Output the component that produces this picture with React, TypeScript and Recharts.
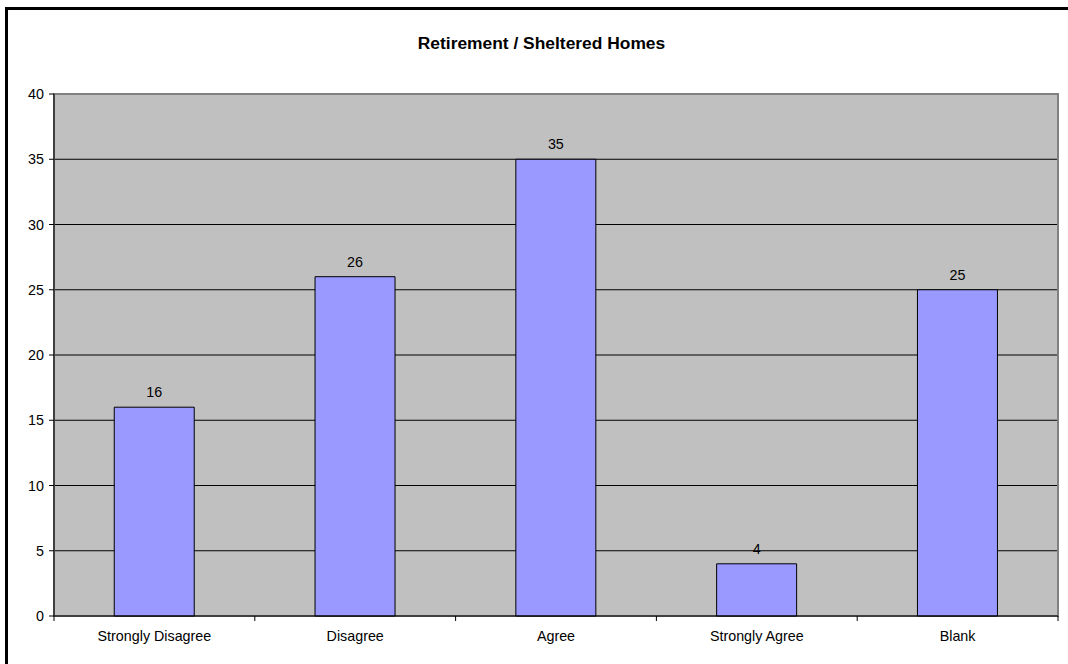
import React from "react";
import { BarChart, Bar, XAxis, YAxis, CartesianGrid, LabelList, ReferenceArea } from "recharts";

const categories = ["Strongly Disagree", "Disagree", "Agree", "Strongly Agree", "Blank"];
const counts = [16, 26, 35, 4, 25];
const yTicks = [0, 5, 10, 15, 20, 25, 30, 35, 40];
const title = "Retirement / Sheltered Homes";

const data = categories.map((c, i) => ({ name: c, value: counts[i] }));

const W = 1068;
const H = 664;
const M = { top: 94, right: 10, left: 14, bottom: 18 };
const YW = 40;
const PLOT_W = W - M.left - YW - M.right;
const FONT = "'Liberation Sans', Arial, sans-serif";
const FS = 14.3;

function XTick(props: any) {
  const { x, y, payload, index } = props;
  const bw = PLOT_W / categories.length;
  const last = index === categories.length - 1;
  return (
    <g>
      <line x1={x - bw / 2} x2={x - bw / 2} y1={y} y2={y + 5} stroke="#000" />
      {last && <line x1={x + bw / 2} x2={x + bw / 2} y1={y} y2={y + 5} stroke="#000" />}
      <text x={x} y={y} dy={25} textAnchor="middle" fontSize={FS} fontFamily={FONT} fill="#000">
        {payload.value}
      </text>
    </g>
  );
}

export default function App() {
  return (
    <div style={{ position: "absolute", left: 0, top: 0, width: W, height: H, background: "#fff", overflow: "hidden" }}>
      <BarChart width={W} height={H} data={data} margin={M} barCategoryGap="30%">
        <CartesianGrid vertical={false} stroke="#000" strokeOpacity={1} fill="#C0C0C0" fillOpacity={1} />
        <ReferenceArea y1={0} y2={40} fill="none" stroke="#808080" strokeWidth={2} ifOverflow="visible" />
        <XAxis
          dataKey="name"
          tick={<XTick />}
          tickLine={false}
          tickSize={0}
          tickMargin={0}
          height={30}
          axisLine={{ stroke: "#000" }}
          interval={0}
        />
        <YAxis
          width={YW}
          domain={[0, 40]}
          ticks={yTicks}
          interval={0}
          tickSize={5}
          tickMargin={5}
          axisLine={{ stroke: "#000" }}
          tickLine={{ stroke: "#000" }}
          tick={{ fontSize: FS, fill: "#000", fontFamily: FONT }}
        />
        <Bar dataKey="value" fill="#9999FF" stroke="#000" strokeWidth={1} isAnimationActive={false}>
          <LabelList dataKey="value" position="top" offset={10} fontSize={FS} fill="#000" fontFamily={FONT} />
        </Bar>
      </BarChart>
      <svg width={W} height={H} style={{ position: "absolute", left: 0, top: 0, pointerEvents: "none" }}>
        <line x1={6.5} x2={6.5} y1={7} y2={H} stroke="#000" strokeWidth={3} />
        <line x1={5} x2={W} y1={8.5} y2={8.5} stroke="#000" strokeWidth={3} />
        <text x={541.5} y={49} textAnchor="middle" fontSize={17.4} fontWeight="bold" fontFamily={FONT} fill="#000">
          {title}
        </text>
      </svg>
    </div>
  );
}
